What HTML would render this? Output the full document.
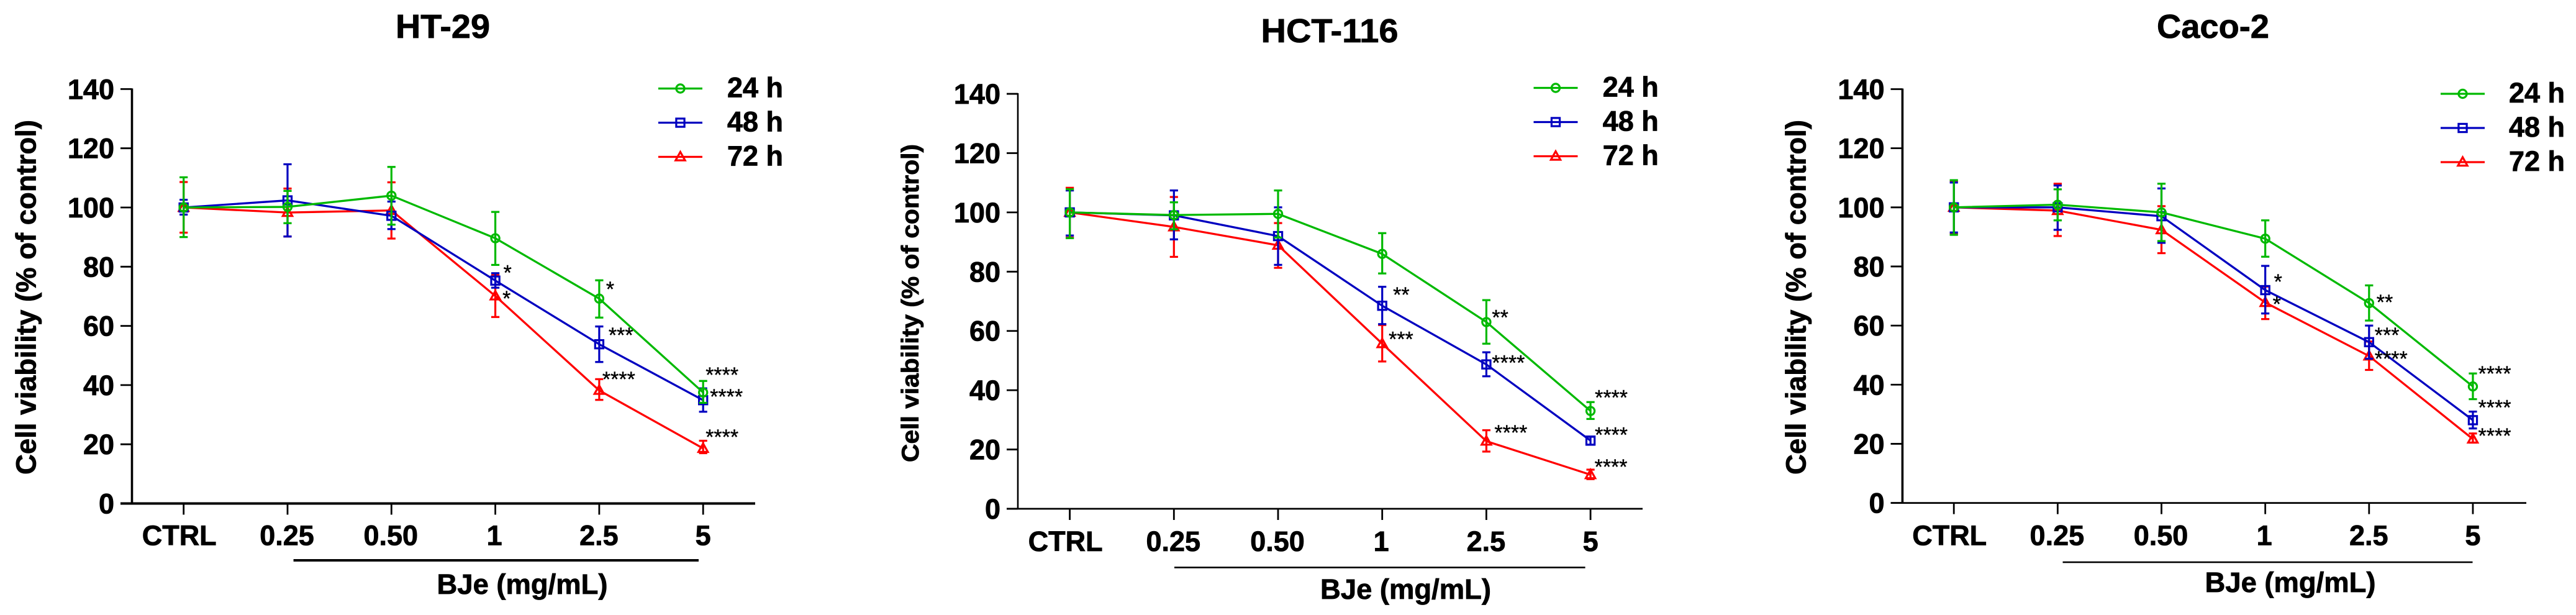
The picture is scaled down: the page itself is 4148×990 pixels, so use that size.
<!DOCTYPE html>
<html lang="en">
<head>
<meta charset="utf-8">
<title>Cell viability vs BJe concentration</title>
<style>
html,body{margin:0;padding:0;background:#fff;width:4148px;height:990px;overflow:hidden}
svg{display:block}
text{font-family:"Liberation Sans",Arial,sans-serif;font-weight:700;fill:#000;stroke:#000;stroke-width:.8px}
.stars{font-weight:400;stroke-width:.4px}
</style>
</head>
<body>
<svg id="fig" xmlns="http://www.w3.org/2000/svg" width="4148" height="990" viewBox="0 0 4148 990">
  <rect width="4148" height="990" fill="#fff"/>
  <g id="panel-ht29">
    <text x="713" y="61" font-size="54" text-anchor="middle" textLength="152" lengthAdjust="spacingAndGlyphs">HT-29</text>
    <text transform="translate(57.5 478.5) rotate(-90)" font-size="45.5" text-anchor="middle" textLength="571" lengthAdjust="spacingAndGlyphs">Cell viability (% of control)</text>
    <rect x="472.6" y="900" width="652.4" height="4" fill="#000"/>
    <text x="841" y="956" font-size="45.4" text-anchor="middle">BJe (mg/mL)</text>
  </g>
  <g id="panel-hct116">
    <text x="2141" y="68" font-size="54" text-anchor="middle" textLength="221" lengthAdjust="spacingAndGlyphs">HCT-116</text>
    <text transform="translate(1479 488) rotate(-90)" font-size="39" text-anchor="middle" textLength="512" lengthAdjust="spacingAndGlyphs">Cell viability (% of control)</text>
    <rect x="1891" y="912.2" width="661.6" height="2.6" fill="#000"/>
    <text x="2263.5" y="964" font-size="45.4" text-anchor="middle">BJe (mg/mL)</text>
  </g>
  <g id="panel-caco2">
    <text x="3563.5" y="61" font-size="54" text-anchor="middle" textLength="181" lengthAdjust="spacingAndGlyphs">Caco-2</text>
    <text transform="translate(2907.5 478.5) rotate(-90)" font-size="45.5" text-anchor="middle" textLength="571" lengthAdjust="spacingAndGlyphs">Cell viability (% of control)</text>
    <rect x="3321.5" y="903.7" width="660" height="2.6" fill="#000"/>
    <text x="3688" y="953" font-size="45.4" text-anchor="middle">BJe (mg/mL)</text>
  </g>
</svg>
<script>
const categories = ['CTRL', '0.25', '0.50', '1', '2.5', '5'];
const yTickLabels = [0, 20, 40, 60, 80, 100, 120, 140];
const seriesNames = ['24 h', '48 h', '72 h'];

const ht29Mean24 = [100, 100.2, 104, 89.6, 69.2, 37.5];
const ht29Upper24 = [110.2, 105.6, 113.7, 98.5, 75.4, 41.4];
const ht29Lower24 = [90, 94.7, 94.2, 80.6, 62.8, 34];
const ht29Mean48 = [100, 102.4, 97.2, 75.3, 53.8, 34.9];
const ht29Upper48 = [102.6, 114.6, 102, 77.8, 59.8, 38.9];
const ht29Lower48 = [97.6, 90.2, 92.7, 72.9, 47.8, 31];
const ht29Mean72 = [100, 98.3, 99, 70.1, 38.2, 18.6];
const ht29Upper72 = [108.6, 106.4, 108.5, 77.2, 42, 21.2];
const ht29Lower72 = [91.5, 90.2, 89.5, 63, 35, 17];
const ht29Stars24 = ['', '', '', '', '*', '****'];
const ht29Stars48 = ['', '', '', '*', '***', '****'];
const ht29Stars72 = ['', '', '', '*', '****', '****'];

const hct116Mean24 = [100, 99.1, 99.5, 86, 63, 33];
const hct116Upper24 = [107.8, 103.4, 107.4, 93, 70.4, 36];
const hct116Lower24 = [91.3, 94.3, 91.5, 79.4, 55.7, 30.3];
const hct116Mean48 = [100, 99, 92, 68.5, 48.7, 23];
const hct116Upper48 = [107.4, 107.4, 101.7, 74.9, 52.8, 24.3];
const hct116Lower48 = [92.2, 90.9, 82.3, 62.3, 44.7, 21.6];
const hct116Mean72 = [100, 95.1, 88.9, 55.7, 22.8, 11.5];
const hct116Upper72 = [108.3, 105.2, 96.4, 62, 26.5, 13.2];
const hct116Lower72 = [91.5, 85, 81.3, 49.7, 19.3, 10];
const hct116Stars24 = ['', '', '', '', '**', '****'];
const hct116Stars48 = ['', '', '', '**', '****', '****'];
const hct116Stars72 = ['', '', '', '***', '****', '****'];

const caco2Mean24 = [100, 100.9, 98.3, 89.4, 67.6, 39.4];
const caco2Upper24 = [109.2, 106.1, 108, 95.6, 73.6, 43.8];
const caco2Lower24 = [90.7, 95.6, 88.6, 83.3, 61.7, 35.1];
const caco2Mean48 = [100, 100, 97, 72, 54.4, 28];
const caco2Upper48 = [108.4, 107.4, 106.4, 80.2, 60, 30.9];
const caco2Lower48 = [91.5, 92.4, 88, 64.1, 48.8, 25.2];
const caco2Mean72 = [100, 98.9, 92.4, 67.8, 49.7, 21.6];
const caco2Upper72 = [108.8, 108, 100.4, 73.2, 54.6, 23.5];
const caco2Lower72 = [91, 90.3, 84.5, 62.2, 45, 20.4];
const caco2Stars24 = ['', '', '', '', '**', '****'];
const caco2Stars48 = ['', '', '', '*', '***', '****'];
const caco2Stars72 = ['', '', '', '*', '****', '****'];

var SVGNS = 'http://www.w3.org/2000/svg';
var COLORS = {'24 h': '#00b900', '48 h': '#0000c0', '72 h': '#ff0000'};
var LABEL_NUDGE = [-7, -1, -1, -1.5, -0.5, 0];

function make(parent, tag, attrs, name) {
  var el = document.createElementNS(SVGNS, tag);
  for (var k in attrs) { el.setAttribute(k, attrs[k]); }
  
  
  parent.appendChild(el);
  return el;
}

function drawMarker(parent, seriesName, cx, cy, name) {
  var c = COLORS[seriesName];
  var common = {fill: 'none', stroke: c, 'stroke-width': 3.2};
  var a;
  if (seriesName === '24 h') {
    a = Object.assign({cx: cx, cy: cy, r: 6.6}, common);
    return make(parent, 'circle', a, name);
  }
  if (seriesName === '48 h') {
    a = Object.assign({x: cx - 6.6, y: cy - 6.6, width: 13.2, height: 13.2}, common);
    return make(parent, 'rect', a, name);
  }
  var pts = [(cx) + ',' + (cy - 8), (cx + 7.6) + ',' + (cy + 5.6), (cx - 7.6) + ',' + (cy + 5.6)].join(' ');
  a = Object.assign({points: pts}, common);
  return make(parent, 'polygon', a, name);
}

function drawPanel(p) {
  var root = document.getElementById(p.id);
  var xScale = function (i) { return p.x0 + p.step * i; };
  var yScale = function (v) { return p.y0 - p.unit * v; };

  var axes = make(root, 'g', {}, p.slug + '-axes');
  yTickLabels.forEach(function (t) {
    make(axes, 'line', {x1: p.tickLeft, x2: p.axisX, y1: yScale(t), y2: yScale(t), stroke: '#000', 'stroke-width': 2.8}, p.slug + '-y-tick-' + t);
    var lbl = make(axes, 'text', {x: p.tickLeft - 10, y: yScale(t) + 16, 'font-size': 45, 'text-anchor': 'end'}, p.slug + '-y-tick-label-' + t);
    lbl.textContent = t;
  });
  make(axes, 'line', {x1: p.axisX, x2: p.axisX, y1: yScale(140) - 1, y2: p.y0, stroke: '#000', 'stroke-width': p.yAxisW}, p.slug + '-y-axis');
  make(axes, 'line', {x1: p.tickLeft, x2: p.xEnd, y1: p.y0, y2: p.y0, stroke: '#000', 'stroke-width': p.xAxisW}, p.slug + '-x-axis');
  categories.forEach(function (c, i) {
    make(axes, 'line', {x1: xScale(i), x2: xScale(i), y1: p.y0, y2: p.y0 + 18, stroke: '#000', 'stroke-width': 2.8}, p.slug + '-x-tick-' + c);
    var lbl = make(axes, 'text', {x: xScale(i) + LABEL_NUDGE[i], y: p.labelY, 'font-size': 45, 'text-anchor': 'middle'}, p.slug + '-x-tick-label-' + c);
    lbl.textContent = c;
  });

  ['72 h', '48 h', '24 h'].forEach(function (s) {
    var d = p.series[s];
    var key = s.replace(' ', '');
    var g = make(root, 'g', {}, p.slug + '-series-' + key);
    var col = COLORS[s];
    d.mean.forEach(function (m, i) {
      var x = xScale(i), yu = yScale(d.upper[i]), yl = yScale(d.lower[i]);
      make(g, 'line', {x1: x, x2: x, y1: yu, y2: yl, stroke: col, 'stroke-width': 3.2}, p.slug + '-error-bar-' + key);
      make(g, 'line', {x1: x - 6.6, x2: x + 6.6, y1: yu, y2: yu, stroke: col, 'stroke-width': 3.2}, p.slug + '-error-cap-upper-' + key);
      make(g, 'line', {x1: x - 6.6, x2: x + 6.6, y1: yl, y2: yl, stroke: col, 'stroke-width': 3.2}, p.slug + '-error-cap-lower-' + key);
    });
    var pts = d.mean.map(function (m, i) { return xScale(i) + ',' + yScale(m); }).join(' ');
    make(g, 'polyline', {points: pts, fill: 'none', stroke: col, 'stroke-width': 3.3, 'stroke-linejoin': 'round'}, p.slug + '-line-' + key);
    d.mean.forEach(function (m, i) {
      drawMarker(g, s, xScale(i), yScale(m), p.slug + '-point-' + key);
    });
  });

  ['24 h', '48 h', '72 h'].forEach(function (s) {
    var d = p.series[s];
    var nudge = p.nudge[s];
    d.stars.forEach(function (st, i) {
      if (!st) { return; }
      var n = nudge[i];
      var t = make(root, 'text', {'class': 'stars', x: xScale(i) + n[0], y: yScale(d.mean[i]) + n[1] + 16, 'font-size': 34}, p.slug + '-significance-' + s.replace(' ', ''));
      t.textContent = st;
    });
  });

  var legend = make(root, 'g', {}, p.slug + '-legend');
  seriesNames.forEach(function (s, i) {
    var key = s.replace(' ', '');
    var entry = make(legend, 'g', {}, p.slug + '-legend-entry-' + key);
    var ly = p.legendY + i * p.legendGap;
    make(entry, 'line', {x1: p.legendX, x2: p.legendX + 71, y1: ly, y2: ly, stroke: COLORS[s], 'stroke-width': 3.3}, p.slug + '-legend-line-' + key);
    drawMarker(entry, s, p.legendX + 35.5, ly, p.slug + '-legend-marker-' + key);
    var t = make(entry, 'text', {x: p.legendTextX, y: ly + 14, 'font-size': 45}, p.slug + '-legend-label-' + key);
    t.textContent = s;
  });
}

drawPanel({
  id: 'panel-ht29', slug: 'ht-29', x0: 295.7, step: 167.3, y0: 810.5, unit: 4.765,
  axisX: 212.5, tickLeft: 194, xEnd: 1216, yAxisW: 3.6, xAxisW: 4, labelY: 877.5,
  legendX: 1060, legendY: 142.5, legendGap: 55, legendTextX: 1171,
  series: {
    '24 h': {mean: ht29Mean24, upper: ht29Upper24, lower: ht29Lower24, stars: ht29Stars24},
    '48 h': {mean: ht29Mean48, upper: ht29Upper48, lower: ht29Lower48, stars: ht29Stars48},
    '72 h': {mean: ht29Mean72, upper: ht29Upper72, lower: ht29Lower72, stars: ht29Stars72}
  },
  nudge: {
    '24 h': [0, 0, 0, 0, [11, -20], [4, -33]],
    '48 h': [0, 0, 0, [13, -17], [15, -19], [11, -10]],
    '72 h': [0, 0, 0, [11.5, -0.5], [5, -22.5], [4, -23]]
  }
});
drawPanel({
  id: 'panel-hct116', slug: 'hct-116', x0: 1722.6, step: 167.7, y0: 819, unit: 4.771,
  axisX: 1639, tickLeft: 1621, xEnd: 2645, yAxisW: 2.6, xAxisW: 2.8, labelY: 886.8,
  legendX: 2469.5, legendY: 141.5, legendGap: 55, legendTextX: 2580.7,
  series: {
    '24 h': {mean: hct116Mean24, upper: hct116Upper24, lower: hct116Lower24, stars: hct116Stars24},
    '48 h': {mean: hct116Mean48, upper: hct116Upper48, lower: hct116Lower48, stars: hct116Stars48},
    '72 h': {mean: hct116Mean72, upper: hct116Upper72, lower: hct116Lower72, stars: hct116Stars72}
  },
  nudge: {
    '24 h': [0, 0, 0, 0, [9, -12], [7, -26]],
    '48 h': [0, 0, 0, [17.4, -22], [9, -7], [7, -14]],
    '72 h': [0, 0, 0, [10.4, -12], [13, -18], [6.5, -17]]
  }
});
drawPanel({
  id: 'panel-caco2', slug: 'caco-2', x0: 3146.2, step: 167.15, y0: 809.6, unit: 4.758,
  axisX: 3063.4, tickLeft: 3044.5, xEnd: 4068, yAxisW: 3.6, xAxisW: 2.8, labelY: 877.3,
  legendX: 3930, legendY: 151, legendGap: 55, legendTextX: 4040,
  series: {
    '24 h': {mean: caco2Mean24, upper: caco2Upper24, lower: caco2Lower24, stars: caco2Stars24},
    '48 h': {mean: caco2Mean48, upper: caco2Upper48, lower: caco2Lower48, stars: caco2Stars48},
    '72 h': {mean: caco2Mean72, upper: caco2Upper72, lower: caco2Lower72, stars: caco2Stars72}
  },
  nudge: {
    '24 h': [0, 0, 0, 0, [12, -6], [8.6, -25]],
    '48 h': [0, 0, 0, [14, -18], [9, -16], [8.6, -25]],
    '72 h': [0, 0, 0, [12, -2], [9, 0], [8.6, -10]]
  }
});
</script>
</body>
</html>
